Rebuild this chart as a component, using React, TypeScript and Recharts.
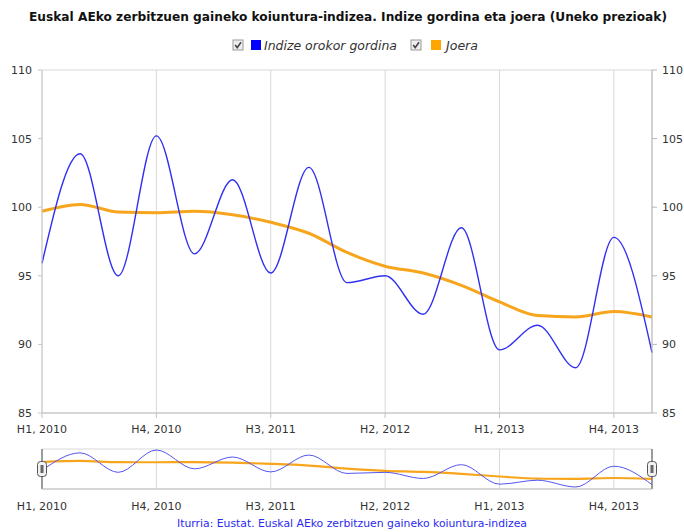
import React from "react";
import {
  LineChart,
  Line,
  XAxis,
  YAxis,
  CartesianGrid,
  ReferenceLine,
} from "recharts";

const categories = [
  "H1, 2010", "H2, 2010", "H3, 2010", "H4, 2010",
  "H1, 2011", "H2, 2011", "H3, 2011", "H4, 2011",
  "H1, 2012", "H2, 2012", "H3, 2012", "H4, 2012",
  "H1, 2013", "H2, 2013", "H3, 2013", "H4, 2013",
  "H1, 2014",
];
const rawIndex = [
  95.9, 103.9, 95.0, 105.2, 96.6, 102.0, 95.2, 102.9,
  94.5, 95.0, 92.2, 98.5, 89.6, 91.4, 88.3, 97.8, 89.4,
];
const trendIndex = [
  99.7, 100.2, 99.65, 99.6, 99.7, 99.45, 98.9, 98.1,
  96.7, 95.7, 95.2, 94.3, 93.1, 92.1, 92.0, 92.4, 92.0,
];
const xTicks = [0, 3, 6, 9, 12, 15];
const yTicks = [85, 90, 95, 100, 105, 110];
const title =
  "Euskal AEko zerbitzuen gaineko koiuntura-indizea. Indize gordina eta joera (Uneko prezioak)";
const rawName = "Indize orokor gordina";
const trendName = "Joera";
const source = "Iturria: Eustat. Euskal AEko zerbitzuen gaineko koiuntura-indizea";

const data = categories.map((c, i) => ({
  i,
  label: c,
  raw: rawIndex[i],
  trend: trendIndex[i],
}));

const FONT = "'DejaVu Sans', Verdana, sans-serif";
const GRID = "#d9d9d9";
const TEXT = "#333333";
const BLUE = "#3030f2";
const ORANGE = "#f7a51c";

const fmt = (v: number) => categories[v] ?? "";

const tickStyle = { fontSize: 11, fill: TEXT, fontFamily: FONT };

function Checkbox({ x, y }: { x: number; y: number }) {
  return (
    <g>
      <rect x={x} y={y} width={10} height={10} fill="#eeeeee" stroke="#9a9a9a" strokeWidth={1} />
      <path
        d={`M${x + 2.2} ${y + 5} L${x + 4.2} ${y + 7.6} L${x + 8} ${y + 2.2}`}
        fill="none"
        stroke="#444"
        strokeWidth={1.6}
      />
    </g>
  );
}

const renderHandle = (props: any) => {
  const vb = props.viewBox || {};
  const x = vb.x ?? 0;
  const y = vb.y ?? 0;
  const h = vb.height ?? 0;
  const cy = y + h / 2;
  return (
    <g>
      <rect x={x - 4.5} y={cy - 7.5} width={9} height={15} rx={3} ry={3} fill="#f2f2f2" stroke="#555" strokeWidth={1} />
      <rect x={x - 1.5} y={cy - 4} width={3} height={8} fill="#666" />
    </g>
  );
};

export default function App() {
  return (
    <div
      style={{
        position: "absolute",
        left: 0,
        top: 0,
        width: 684,
        height: 532,
        background: "#ffffff",
        overflow: "hidden",
      }}
    >
      <svg width={684} height={60} style={{ position: "absolute", left: 0, top: 0 }}>
        <text
          x={348}
          y={21}
          textAnchor="middle"
          fontFamily={FONT}
          fontWeight="bold"
          fontSize={12}
          fill="#111"
          textLength={638}
          lengthAdjust="spacingAndGlyphs"
        >
          {title}
        </text>
        <Checkbox x={233} y={40} />
        <rect x={251} y={40} width={10} height={10} fill="#0000ff" />
        <text
          x={264}
          y={49.5}
          fontFamily={FONT}
          fontStyle="italic"
          fontSize={12}
          fill={TEXT}
          textLength={133}
          lengthAdjust="spacingAndGlyphs"
        >
          {rawName}
        </text>
        <Checkbox x={411} y={40} />
        <rect x={431} y={40} width={10} height={10} fill="#ffa500" />
        <text
          x={446}
          y={49.5}
          fontFamily={FONT}
          fontStyle="italic"
          fontSize={12}
          fill={TEXT}
          textLength={32}
          lengthAdjust="spacingAndGlyphs"
        >
          {trendName}
        </text>
      </svg>

      <div style={{ position: "absolute", left: 0, top: 0 }}>
        <LineChart
          width={684}
          height={445}
          data={data}
          margin={{ top: 70, right: 0, bottom: 0, left: 0 }}
        >
          <CartesianGrid stroke={GRID} strokeWidth={1} />
          <XAxis
            dataKey="i"
            type="number"
            domain={[0, 16]}
            ticks={xTicks}
            tickFormatter={fmt}
            height={32}
            tick={tickStyle}
            tickSize={5}
            tickMargin={7}
            stroke="#c0c0c0"
            tickLine={{ stroke: "#c0c0c0" }}
            interval={0}
          />
          <YAxis
            yAxisId="left"
            orientation="left"
            domain={[85, 110]}
            ticks={yTicks}
            width={42}
            tick={tickStyle}
            tickSize={4}
            tickMargin={6}
            stroke="#c8c8c8"
            allowDataOverflow
          />
          <YAxis
            yAxisId="right"
            orientation="right"
            domain={[85, 110]}
            ticks={yTicks}
            width={32}
            tick={tickStyle}
            tickSize={5}
            tickMargin={5}
            stroke="#b8b8b8"
            allowDataOverflow
          />
          <Line
            yAxisId="left"
            type="monotone"
            dataKey="trend"
            stroke={ORANGE}
            strokeWidth={3}
            dot={false}
            isAnimationActive={false}
          />
          <Line
            yAxisId="left"
            type="monotone"
            dataKey="raw"
            stroke={BLUE}
            strokeWidth={1.4}
            dot={false}
            isAnimationActive={false}
          />
        </LineChart>
      </div>

      <div style={{ position: "absolute", left: 0, top: 440 }}>
        <LineChart
          width={684}
          height={92}
          data={data}
          margin={{ top: 9, right: 32, bottom: 0, left: 42 }}
        >
          <CartesianGrid
            stroke={GRID}
            horizontalCoordinatesGenerator={({ offset }: any) => [offset.top, offset.top + offset.height]}
          />
          <XAxis
            dataKey="i"
            type="number"
            domain={[0, 16]}
            ticks={xTicks}
            tickFormatter={fmt}
            height={43}
            tick={tickStyle}
            tickSize={0}
            tickMargin={13}
            stroke="#c0c0c0"
            interval={0}
          />
          <YAxis hide domain={["dataMin", "dataMax"]} padding={{ top: 1, bottom: 2 }} />
          <Line
            type="monotone"
            dataKey="trend"
            stroke={ORANGE}
            strokeWidth={2.2}
            dot={false}
            isAnimationActive={false}
          />
          <Line
            type="monotone"
            dataKey="raw"
            stroke="#5555f0"
            strokeWidth={1}
            dot={false}
            isAnimationActive={false}
          />
          <ReferenceLine x={0} stroke="#666" strokeWidth={1.2} label={renderHandle} />
          <ReferenceLine x={16} stroke="#666" strokeWidth={1.2} label={renderHandle} />
        </LineChart>
      </div>

      <svg width={684} height={20} style={{ position: "absolute", left: 0, top: 514 }}>
        <text
          x={352}
          y={13}
          textAnchor="middle"
          fontFamily={FONT}
          fontSize={10}
          fill="#2a2af0"
          textLength={350}
          lengthAdjust="spacingAndGlyphs"
        >
          {source}
        </text>
      </svg>
    </div>
  );
}
